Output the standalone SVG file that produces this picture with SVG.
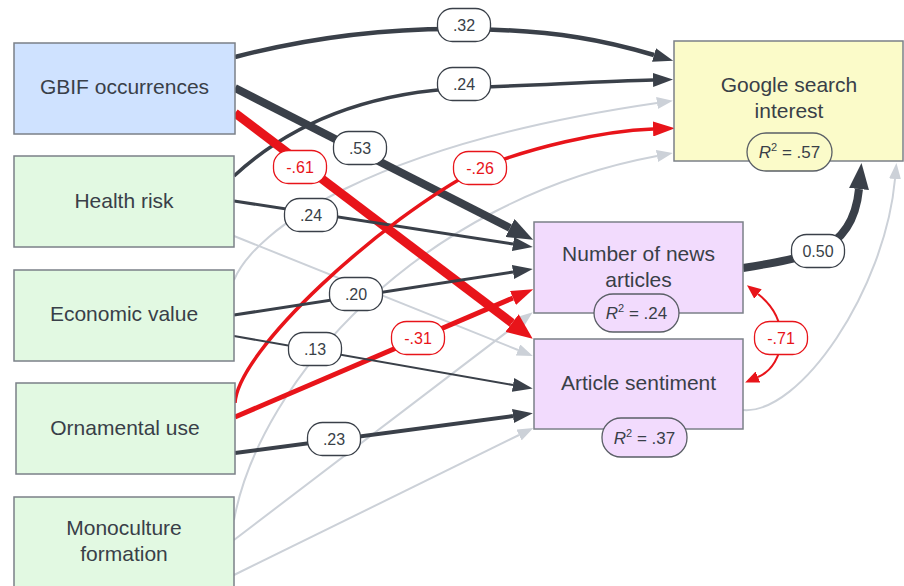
<svg xmlns="http://www.w3.org/2000/svg" width="904" height="586" viewBox="0 0 904 586">
<style>
.box{stroke:#7b8088;stroke-width:1.5}
.gbif{fill:#cfe2ff}.pred{fill:#e2f9e2}.goog{fill:#fbfbc9}.med{fill:#f2dbfd}
.nt{font-family:"Liberation Sans",Arial,sans-serif;font-size:21px;fill:#393f48;text-anchor:middle}
.e{fill:none}
.dk{stroke:#3a4049}.rd{stroke:#e8141a}.gy{stroke:#ccd1d8}
.lb rect{fill:#fff;stroke:#3a4049;stroke-width:1.3}
.lb text{font-family:"Liberation Sans",Arial,sans-serif;font-size:16px;fill:#393f48;text-anchor:middle}
.lb.r rect{stroke:#e8141a}
.lb.r text{fill:#e8141a}
.r2 rect{stroke:#5a5f66;stroke-width:1.3}
.r2 text{font-family:"Liberation Sans",Arial,sans-serif;font-size:17px;fill:#393f48;text-anchor:middle}
</style>
<defs>
<marker id="mDark" markerUnits="userSpaceOnUse" markerWidth="20" markerHeight="14" viewBox="0 0 20 14" refX="0" refY="7" orient="auto"><path d="M0,0L20,7L0,14z" fill="#3a4049"/></marker>
<marker id="mDarkBig" markerUnits="userSpaceOnUse" markerWidth="26" markerHeight="20" viewBox="0 0 26 20" refX="0" refY="10" orient="auto"><path d="M0,0L26,10L0,20z" fill="#3a4049"/></marker>
<marker id="mRed" markerUnits="userSpaceOnUse" markerWidth="22" markerHeight="15" viewBox="0 0 22 15" refX="0" refY="7.5" orient="auto"><path d="M0,0L22,7.5L0,15z" fill="#e8141a"/></marker>
<marker id="mRedBig" markerUnits="userSpaceOnUse" markerWidth="26" markerHeight="22" viewBox="0 0 26 22" refX="0" refY="11" orient="auto"><path d="M0,0L26,11L0,22z" fill="#e8141a"/></marker>
<marker id="mRedSm" markerUnits="userSpaceOnUse" markerWidth="14" markerHeight="12" viewBox="0 0 14 12" refX="0" refY="6" orient="auto-start-reverse"><path d="M0,0L14,6L0,12z" fill="#e8141a"/></marker>
<marker id="mGray" markerUnits="userSpaceOnUse" markerWidth="16" markerHeight="12" viewBox="0 0 16 12" refX="0" refY="6" orient="auto"><path d="M0,0L16,6L0,12z" fill="#ccd1d8"/></marker>
</defs>

<g id="connectors">
  <!-- gray (non-significant) paths -->
  <path class="e gy" stroke-width="2" d="M234,236 L518,350" marker-end="url(#mGray)"/>
  <path class="e gy" stroke-width="2" d="M234,280 C255,230 370,145 657,103" marker-end="url(#mGray)"/>
  <path class="e gy" stroke-width="2" d="M234,520 C260,380 420,200 657,156" marker-end="url(#mGray)"/>
  <path class="e gy" stroke-width="2" d="M234,540 L520,322" marker-end="url(#mGray)"/>
  <path class="e gy" stroke-width="2" d="M234,575 L519,435" marker-end="url(#mGray)"/>
  <path class="e gy" stroke-width="2" d="M743,410 C800,415 885,290 895,179" marker-end="url(#mGray)"/>
  <!-- significant paths -->
  <path class="e dk" stroke-width="4.5" d="M235,57 C300,40 380,28 464,29 C560,30 610,42 654,55" marker-end="url(#mDark)"/>
  <path class="e dk" stroke-width="3.5" d="M234,176 C300,115 380,92 464,88 C560,84 610,81 653,80" marker-end="url(#mDark)"/>
  <path class="e dk" stroke-width="8" d="M235,88 L510,228" marker-end="url(#mDarkBig)"/>
  <path class="e rd" stroke-width="9" d="M235,113 L512,323" marker-end="url(#mRedBig)"/>
  <path class="e dk" stroke-width="3" d="M234,201 L513,244" marker-end="url(#mDark)"/>
  <path class="e rd" stroke-width="3.5" d="M235,403 C238,350 380,220 480,168 C530,148 600,131 653,129" marker-end="url(#mRed)"/>
  <path class="e rd" stroke-width="5" d="M235,417 L513,298" marker-end="url(#mRed)"/>
  <path class="e dk" stroke-width="3" d="M234,315 L513,272" marker-end="url(#mDark)"/>
  <path class="e dk" stroke-width="2" d="M234,336 L513,385" marker-end="url(#mDark)"/>
  <path class="e dk" stroke-width="4" d="M235,453 L513,416" marker-end="url(#mDark)"/>
  <path class="e dk" stroke-width="8" d="M743,268 C780,262 800,258 818,251 C842,241 856,220 859,189" marker-end="url(#mDarkBig)"/>
  <path class="e rd" stroke-width="2" d="M758,294 C772,305 781,320 781,338 C781,356 772,371 758,377" marker-start="url(#mRedSm)" marker-end="url(#mRedSm)"/>

  <!-- path labels -->
  <g class="lb"><rect x="437.5" y="8.5" width="53" height="33" rx="15"/><text x="464" y="30.5">.32</text></g>
  <g class="lb"><rect x="437.5" y="67.5" width="53" height="33" rx="15"/><text x="464" y="89.5">.24</text></g>
  <g class="lb"><rect x="333.5" y="131.5" width="53" height="33" rx="15"/><text x="360" y="153.5">.53</text></g>
  <g class="lb r"><rect x="273.5" y="150.5" width="53" height="33" rx="15"/><text x="300" y="172.5">-.61</text></g>
  <g class="lb"><rect x="284.5" y="198.5" width="53" height="33" rx="15"/><text x="311" y="220.5">.24</text></g>
  <g class="lb"><rect x="329.5" y="277.5" width="53" height="33" rx="15"/><text x="356" y="299.5">.20</text></g>
  <g class="lb r"><rect x="453.5" y="151.5" width="53" height="33" rx="15"/><text x="480" y="173.5">-.26</text></g>
  <g class="lb"><rect x="288.5" y="332.5" width="53" height="33" rx="15"/><text x="315" y="354.5">.13</text></g>
  <g class="lb r"><rect x="391.5" y="321.5" width="53" height="33" rx="15"/><text x="418" y="343.5">-.31</text></g>
  <g class="lb"><rect x="307.5" y="422.5" width="53" height="33" rx="15"/><text x="334" y="444.5">.23</text></g>
  <g class="lb"><rect x="791.5" y="234.5" width="53" height="33" rx="15"/><text x="818" y="256.5">0.50</text></g>
  <g class="lb r"><rect x="754.5" y="321.5" width="53" height="33" rx="15"/><text x="781" y="343.5">-.71</text></g>
</g>

<g id="gbif">
  <rect class="box gbif" x="14" y="43" width="221" height="91"/>
  <text class="nt" x="124.5" y="93.5">GBIF occurrences</text>
</g>
<g id="health">
  <rect class="box pred" x="14" y="156" width="220" height="91"/>
  <text class="nt" x="124" y="207.5">Health risk</text>
</g>
<g id="economic">
  <rect class="box pred" x="14" y="270" width="220" height="91"/>
  <text class="nt" x="124" y="320.5">Economic value</text>
</g>
<g id="ornamental">
  <rect class="box pred" x="16" y="383" width="219" height="91"/>
  <text class="nt" x="125" y="434.5">Ornamental use</text>
</g>
<g id="monoculture">
  <rect class="box pred" x="14" y="497" width="220" height="95"/>
  <text class="nt" x="124" y="534.5">Monoculture</text>
  <text class="nt" x="124" y="560.5">formation</text>
</g>
<g id="google">
  <rect class="box goog" x="674" y="41" width="229" height="120"/>
  <text class="nt" x="789" y="91.5">Google search</text>
  <text class="nt" x="789" y="117.5">interest</text>
  <g class="r2"><rect class="goog" x="747" y="133" width="85" height="38" rx="19"/><text x="789.5" y="158"><tspan font-style="italic">R</tspan><tspan font-size="11" dy="-7">2</tspan><tspan dy="7"> = .57</tspan></text></g>
</g>
<g id="news">
  <rect class="box med" x="534" y="222" width="209" height="91"/>
  <text class="nt" x="638.5" y="260.5">Number of news</text>
  <text class="nt" x="638.5" y="286.5">articles</text>
  <g class="r2"><rect class="med" x="594" y="294" width="85" height="38" rx="19"/><text x="636.5" y="319"><tspan font-style="italic">R</tspan><tspan font-size="11" dy="-7">2</tspan><tspan dy="7"> = .24</tspan></text></g>
</g>
<g id="sentiment">
  <rect class="box med" x="534" y="339" width="209" height="90"/>
  <text class="nt" x="638.5" y="389.5">Article sentiment</text>
  <g class="r2"><rect class="med" x="602" y="418" width="85" height="39" rx="19"/><text x="644.5" y="443.5"><tspan font-style="italic">R</tspan><tspan font-size="11" dy="-7">2</tspan><tspan dy="7"> = .37</tspan></text></g>
</g>
</svg>
